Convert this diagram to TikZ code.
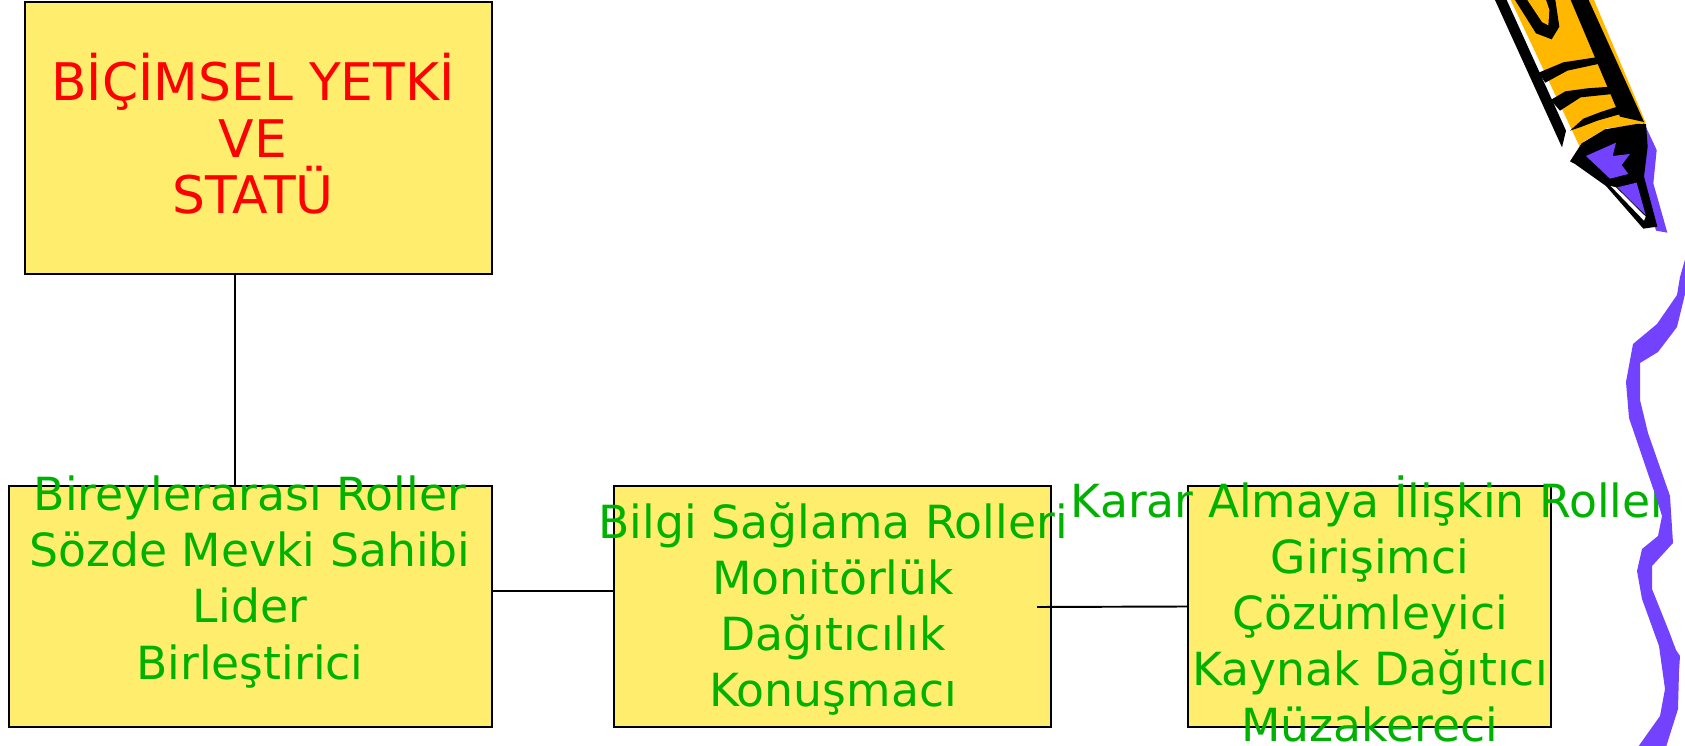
\documentclass[tikz,border=0pt]{standalone}
\usepackage{fontspec}
\setmainfont{DejaVu Sans}
\definecolor{boxfill}{RGB}{255,237,110}
\definecolor{rolegreen}{RGB}{0,178,0}
\definecolor{titlered}{RGB}{255,0,0}
\definecolor{wavepurple}{RGB}{114,66,255}
\definecolor{pencilorange}{RGB}{255,183,0}
\tikzset{
  rolebox/.style={draw=black, line width=1.1pt, fill=boxfill, inner sep=0pt},
  roletext/.style={text=rolegreen, align=center, inner sep=0pt,
    font=\fontsize{26pt}{31.9pt}\selectfont},
  titletext/.style={text=titlered, align=center, inner sep=0pt,
    font=\fontsize{29.5pt}{32.1pt}\selectfont},
  link/.style={draw=black, line width=1.1pt},
}
\begin{document}
\begin{tikzpicture}[x=0.02cm, y=-0.02cm]
\useasboundingbox (0,0) rectangle (1685,746);

% boxes
\node[rolebox, minimum width=9.34cm, minimum height=5.44cm] (top) at (258.5,138) {};
\node[rolebox, minimum width=9.66cm, minimum height=4.82cm] (left) at (250.5,606.5) {};
\node[rolebox, minimum width=8.74cm, minimum height=4.82cm] (mid) at (832.5,606.5) {};
\node[rolebox, minimum width=7.26cm, minimum height=4.82cm] (right) at (1369.5,606.5) {};

% connectors
\draw[link] ([xshift=-0.47cm]top.south) -- ([xshift=-0.47cm]top.south |- left.north);
\draw[link] ([yshift=0.31cm]left.east) -- ([yshift=0.31cm]left.east -| mid.west);
\coordinate (midend) at (1037,607);
\draw[link] (midend) -- (right.west);

% texts
\node[titletext] (toptext) at (253,134) {BİÇİMSEL YETKİ\\VE\\STATÜ};
\node[roletext] (lefttext) at (250,582) {Bireylerarası Roller\\Sözde Mevki Sahibi\\Lider\\Birleştirici};
\node[roletext] (midtext) at (833,609) {Bilgi Sağlama Rolleri\\Monitörlük\\Dağıtıcılık\\Konuşmacı};
\node[roletext] (righttext) at (1370,609) {Karar Almaya İlişkin Roller\\Girişimci\\Çözümleyici\\Kaynak Dağıtıcı\\Müzakereci};

% wavy purple ribbon
\fill[wavepurple] (1686,256) -- (1680,277) -- (1677,295) -- (1657,324) -- (1633,344)
  -- (1626,382) -- (1629,418) -- (1657,500) -- (1662,516) -- (1658,536) -- (1642,549)
  -- (1637,571) -- (1642,599) -- (1659,646) -- (1665,689) -- (1660,716) -- (1638,747)
  -- (1666,747) -- (1678,709) -- (1679,672) -- (1680,656) -- (1676,650) -- (1670,634)
  -- (1652,589) -- (1652,566) -- (1673,543) -- (1670,496) -- (1648,433) -- (1640,400)
  -- (1640,363) -- (1658,352) -- (1677,327) -- (1686,290) -- cycle;

% pencil
\begin{scope}[shift={(1480,0)}, scale=1/3]
  % right purple edge of the tip
  \fill[wavepurple] (488,360) -- (530,450) -- (520,550) -- (562,698) -- (528,692) -- (485,540) -- (494,440) -- cycle;
  % orange body
  \fill[pencilorange] (92,0) -- (342,0) -- (497,368) -- (430,380) -- (380,385) -- (310,425) -- (300,442) -- cycle;
  % left outline
  \fill[black] (45,0) -- (80,0) -- (258,392) -- (246,442) -- cycle;
  % right outline
  \fill[black] (272,0) -- (326,0) -- (492,366) -- (420,350) -- cycle;
  % swirl near the top
  \fill[black] (105,0) -- (168,100) -- (215,118) -- (238,80) -- (226,0) -- cycle;
  \fill[pencilorange] (142,0) -- (186,66) -- (205,76) -- (208,30) -- (198,0) -- cycle;
  % ridges
  \fill[black] (176,218) -- (250,187) -- (348,172) -- (382,186) -- (262,212) -- (196,248) -- cycle;
  \fill[black] (212,300) -- (256,274) -- (322,265) -- (392,260) -- (398,282) -- (302,292) -- (240,332) -- cycle;
  \fill[black] (270,392) -- (310,356) -- (362,336) -- (412,320) -- (422,342) -- (352,362) -- (300,382) -- cycle;
  % tip
  \fill[black] (270,484) -- (305,430) -- (375,388) -- (470,372) -- (498,372) -- (503,440)
    -- (492,530) -- (532,680) -- (490,686) -- (378,558) -- (285,492) -- cycle;
  \fill[wavepurple] (318,468) -- (408,428) -- (398,468) -- (450,462) -- (425,495) -- (445,522) -- (390,536) -- cycle;
  \fill[wavepurple] (412,562) -- (470,548) -- (497,645) -- (455,605) -- cycle;
  \fill[white] (392,558) -- (408,562) -- (497,650) -- (492,662) -- cycle;
\end{scope}
\end{tikzpicture}
\end{document}
